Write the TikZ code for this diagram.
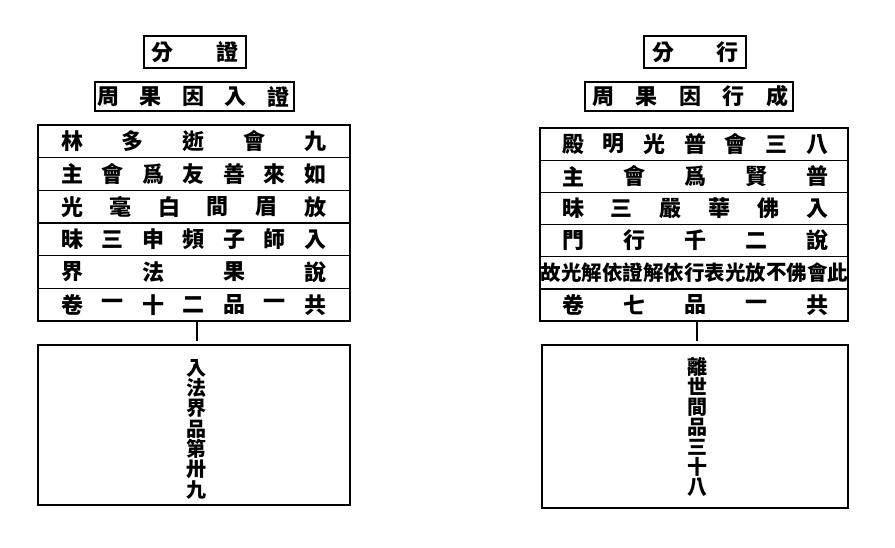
\documentclass[tikz,border=0pt]{standalone}
\usepackage{fontspec}
\newfontfamily\cjk{Noto Sans CJK TC}
\usepackage{tikz}

% one row of characters, spread evenly from the first to the last centre
\newcommand\hanrow[7][han_style]{%
  \foreach \ch [count=\i] in {#7}
    \node[#1] (#2-\i) at ({#4+(\i-1)*(#5-#4)/(#6-1)},#3) {\ch};}

\begin{document}
\begin{tikzpicture}[x=1pt, y=-1pt, line width=1.3pt,
box_style/.style={draw=black, inner sep=0pt},
han_style/.style={font=\cjk\bfseries\fontsize{22}{22}\selectfont, inner sep=0pt},
tight_style/.style={font=\cjk\bfseries\fontsize{20.5}{20.5}\selectfont, inner sep=0pt},
small_style/.style={font=\cjk\bfseries\fontsize{20}{20}\selectfont, inner sep=0pt},
edge_style/.style={draw=black, line width=1.5pt, shorten >=3pt}]
\useasboundingbox (0,0) rectangle (895,547);

% left column
\node[box_style, minimum width=102, minimum height=32] (ltitle) at (195,52) {};
\hanrow{lt}{52}{162}{227}{2}{分,證}
\node[box_style, minimum width=199, minimum height=29] (lsub) at (194.5,96.5) {};
\hanrow{ls}{96.5}{108}{278}{5}{周,果,因,入,證}

\foreach \r in {1,...,6}
  \node[box_style, minimum width=312, minimum height=32.67] (lrow\r) at (194,{125+(\r-0.5)*32.67}) {};
\hanrow{la}{141.3}{72}{315}{5}{林,多,逝,會,九}
\hanrow{lb}{174}{72}{315}{7}{主,會,爲,友,善,來,如}
\hanrow{lc}{206.7}{72}{315}{6}{光,毫,白,間,眉,放}
\hanrow{ld}{239.3}{72}{315}{7}{昧,三,申,頻,子,師,入}
\hanrow{le}{272}{72}{315}{4}{界,法,果,說}
\hanrow{lf}{304.7}{72}{315}{7}{卷,一,十,二,品,一,共}

\node[box_style, minimum width=312, minimum height=160] (lbot) at (194,425) {};
\foreach \ch [count=\i] in {入,法,界,品,第,卅,九}
  \node[small_style] (lv-\i) at (196,{368+(\i-1)*20.3}) {\ch};
\draw[edge_style] ([xshift=3pt]lrow6.south) -- ([xshift=3pt]lbot.north);

% right column
\node[box_style, minimum width=102, minimum height=32] (rtitle) at (695,52) {};
\hanrow{rt}{52}{663}{727}{2}{分,行}
\node[box_style, minimum width=208, minimum height=29] (rsub) at (689,96.5) {};
\hanrow{rs}{96.5}{603}{777}{5}{周,果,因,行,成}

\foreach \r in {1,...,6}
  \node[box_style, minimum width=308, minimum height=32.17] (rrow\r) at (694,{128+(\r-0.5)*32.17}) {};
\hanrow{ra}{144.1}{573}{817}{7}{殿,明,光,普,會,三,八}
\hanrow{rb}{176.3}{573}{817}{5}{主,會,爲,賢,普}
\hanrow{rc}{208.4}{573}{817}{6}{昧,三,嚴,華,佛,入}
\hanrow{rd}{240.6}{573}{817}{5}{門,行,千,二,說}
\hanrow[tight_style]{re}{272.8}{551}{838}{15}{故,光,解,依,證,解,依,行,表,光,放,不,佛,會,此}
\hanrow{rf}{305}{573}{817}{5}{卷,七,品,一,共}

\node[box_style, minimum width=306, minimum height=163] (rbot) at (695,426.5) {};
\foreach \ch [count=\i] in {離,世,間,品,三,十,八}
  \node[small_style] (rv-\i) at (697,{367+(\i-1)*20}) {\ch};
\draw[edge_style] ([xshift=3pt]rrow6.south) -- ([xshift=2pt]rbot.north);
\end{tikzpicture}
\end{document}
